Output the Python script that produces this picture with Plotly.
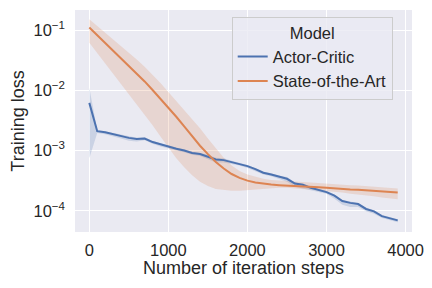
import plotly.graph_objects as go

steps = list(range(0, 4000, 100))

actor_critic = [6.17e-3, 2.09e-3, 2.00e-3, 1.86e-3, 1.78e-3, 1.62e-3, 1.55e-3, 1.58e-3, 1.38e-3, 1.26e-3,
                1.15e-3, 1.07e-3, 1.00e-3, 9.12e-4, 8.71e-4, 7.94e-4, 7.08e-4, 6.92e-4, 6.46e-4, 6.03e-4,
                5.50e-4, 4.90e-4, 4.27e-4, 3.98e-4, 3.63e-4, 3.39e-4, 2.82e-4, 2.69e-4, 2.40e-4, 2.19e-4,
                2.04e-4, 1.78e-4, 1.45e-4, 1.35e-4, 1.29e-4, 1.07e-4, 9.77e-5, 8.13e-5, 7.59e-5, 6.92e-5]
actor_critic_hi = [1.10e-2, 2.19e-3, 2.09e-3, 1.95e-3, 1.86e-3, 1.72e-3, 1.62e-3, 1.66e-3, 1.45e-3, 1.32e-3,
                   1.20e-3, 1.12e-3, 1.05e-3, 9.55e-4, 9.12e-4, 8.51e-4, 7.59e-4, 7.41e-4, 6.76e-4, 6.31e-4,
                   5.75e-4, 5.13e-4, 4.47e-4, 4.17e-4, 3.80e-4, 3.63e-4, 2.95e-4, 2.82e-4, 2.51e-4, 2.29e-4,
                   2.14e-4, 1.86e-4, 1.51e-4, 1.41e-4, 1.35e-4, 1.12e-4, 1.02e-4, 8.51e-5, 7.94e-5, 7.24e-5]
actor_critic_lo = [7.41e-4, 1.95e-3, 1.86e-3, 1.74e-3, 1.58e-3, 1.45e-3, 1.41e-3, 1.48e-3, 1.29e-3, 1.17e-3,
                   1.07e-3, 1.00e-3, 9.33e-4, 8.51e-4, 8.13e-4, 7.08e-4, 6.31e-4, 6.31e-4, 6.03e-4, 5.62e-4,
                   5.13e-4, 4.57e-4, 3.98e-4, 3.72e-4, 3.31e-4, 3.02e-4, 2.51e-4, 2.34e-4, 2.14e-4, 2.00e-4,
                   1.91e-4, 1.58e-4, 1.26e-4, 1.15e-4, 1.15e-4, 9.77e-5, 8.91e-5, 7.59e-5, 7.08e-5, 6.46e-5]

sota = [0.110, 0.0822, 0.0617, 0.0462, 0.0347, 0.0257, 0.0191, 0.0140, 0.0101, 0.00724,
        0.00513, 0.00363, 0.00251, 0.00174, 0.00120, 8.71e-4, 6.46e-4, 5.01e-4, 4.07e-4, 3.51e-4,
        3.16e-4, 2.95e-4, 2.82e-4, 2.72e-4, 2.66e-4, 2.63e-4, 2.57e-4, 2.54e-4, 2.51e-4, 2.45e-4,
        2.40e-4, 2.34e-4, 2.32e-4, 2.26e-4, 2.24e-4, 2.19e-4, 2.14e-4, 2.09e-4, 2.04e-4, 2.00e-4]
sota_hi = [0.151, 0.117, 0.0912, 0.0708, 0.0550, 0.0427, 0.0324, 0.0245, 0.0182, 0.0132,
           0.00933, 0.00661, 0.00468, 0.00331, 0.00234, 0.00158, 0.00107, 7.59e-4, 5.62e-4, 4.57e-4,
           3.98e-4, 3.63e-4, 3.39e-4, 3.24e-4, 3.16e-4, 3.09e-4, 3.02e-4, 2.99e-4, 2.95e-4, 2.88e-4,
           2.82e-4, 2.75e-4, 2.72e-4, 2.66e-4, 2.63e-4, 2.57e-4, 2.51e-4, 2.45e-4, 2.40e-4, 2.34e-4]
sota_lo = [0.0617, 0.0417, 0.0282, 0.0191, 0.0129, 0.00871, 0.00589, 0.00398, 0.00263, 0.00170,
           0.00110, 7.41e-4, 5.25e-4, 3.89e-4, 3.02e-4, 2.57e-4, 2.29e-4, 2.19e-4, 2.14e-4, 2.14e-4,
           2.19e-4, 2.29e-4, 2.34e-4, 2.40e-4, 2.40e-4, 2.40e-4, 2.34e-4, 2.29e-4, 2.24e-4, 2.19e-4,
           2.14e-4, 2.04e-4, 2.00e-4, 1.91e-4, 1.86e-4, 1.78e-4, 1.74e-4, 1.66e-4, 1.62e-4, 1.55e-4]

x_ticks = [0, 1000, 2000, 3000, 4000]
y_ticks = [1e-4, 1e-3, 1e-2, 1e-1]
y_tick_text = ["10<sup>\u22124</sup>", "10<sup>\u22123</sup>", "10<sup>\u22122</sup>", "10<sup>\u22121</sup>"]

BLUE = "#4C72B0"
ORANGE = "#DD8452"
FONT = "Liberation Sans, Arial, DejaVu Sans, sans-serif"
TXT = "#262626"

fig = go.Figure()

def band(x, lo, hi, rgba):
    fig.add_trace(go.Scatter(x=x, y=hi, mode="lines", line=dict(width=0), hoverinfo="skip",
                             showlegend=False))
    fig.add_trace(go.Scatter(x=x, y=lo, mode="lines", line=dict(width=0), fill="tonexty",
                             fillcolor=rgba, hoverinfo="skip", showlegend=False))

band(steps, actor_critic_lo, actor_critic_hi, "rgba(76,114,176,0.2)")
band(steps, sota_lo, sota_hi, "rgba(221,132,82,0.2)")

fig.add_trace(go.Scatter(x=steps, y=actor_critic, mode="lines", name="Actor-Critic",
                         line=dict(color=BLUE, width=2)))
fig.add_trace(go.Scatter(x=steps, y=sota, mode="lines", name="State-of-the-Art",
                         line=dict(color=ORANGE, width=2)))

# the page body adds an 8px margin, so the figure is sized 424x280 to fill 432x288
fig.update_layout(
    width=424, height=280,
    margin=dict(l=67, r=20, t=2, b=56, autoexpand=False),
    paper_bgcolor="white",
    plot_bgcolor="#EAEAF2",
    font=dict(family=FONT, size=16.5, color=TXT),
    legend=dict(
        title=dict(text="Model", font=dict(size=16.5), side="top center"),
        x=0.465, y=0.969, xanchor="left", yanchor="top",
        bgcolor="rgba(234,234,242,0.8)", bordercolor="#CCCCCC", borderwidth=1,
        font=dict(size=16.5), tracegroupgap=0, traceorder="normal",
    ),
    annotations=[dict(text="Number of iteration steps", x=0.5, y=0, xref="paper", yref="paper",
                      xanchor="center", yanchor="middle", yshift=-35.5, showarrow=False,
                      font=dict(size=18, family=FONT, color=TXT))],
)
fig.update_xaxes(
    range=[-181, 4081], tickvals=x_ticks, ticks="", showgrid=True, gridcolor="white",
    gridwidth=1, zeroline=False, showline=False, automargin=False, ticklabelstandoff=6,
)
fig.update_yaxes(
    type="log", range=[-4.353, -0.668], tickvals=y_ticks, ticktext=y_tick_text, ticks="",
    showgrid=True, gridcolor="white", gridwidth=1, zeroline=False, showline=False, automargin=False,
    ticklabelstandoff=9,
    title=dict(text="Training loss", font=dict(size=18), standoff=8),
)

fig.write_html("out.html")
